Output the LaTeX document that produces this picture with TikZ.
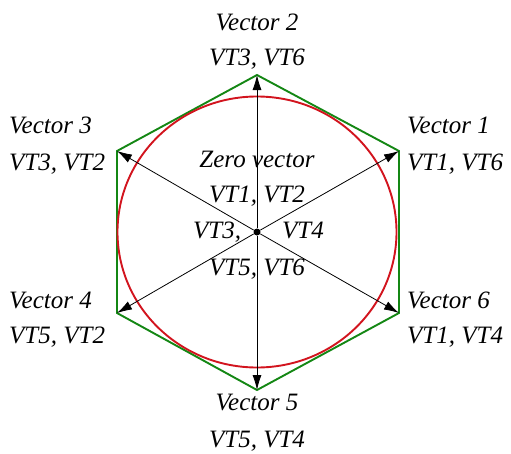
\documentclass[tikz,border=0pt]{standalone}
\usepackage{fontspec}
\setmainfont{Liberation Serif}
\usetikzlibrary{arrows.meta}

\definecolor{hexgreen}{RGB}{20,135,20}
\definecolor{circred}{RGB}{210,20,30}

\begin{document}
\begin{tikzpicture}[x=1pt, y=-1pt,
  lab/.style={font=\fontsize{25}{30}\selectfont\itshape, inner sep=0pt},
  vec/.style={-{Latex[length=15pt,width=9pt]}, line width=0.8pt},
  hex/.style={draw=hexgreen, line width=1.9pt, line join=miter},
  ring/.style={draw=circred, line width=1.9pt}]
  \useasboundingbox (0,0) rectangle (511,453);
  \coordinate (c) at (257,232);
  \coordinate (p1) at (399,151);
  \coordinate (p2) at (257,75);
  \coordinate (p3) at (117,151);
  \coordinate (p4) at (117,313);
  \coordinate (p5) at (257,390);
  \coordinate (p6) at (399,313);
  \draw[hex] (p1) -- (p2) -- (p3) -- (p4) -- (p5) -- (p6) -- cycle;
  \draw[ring] (c) ellipse [x radius=139.5, y radius=135.5];
  \node[circle, fill, inner sep=0pt, minimum size=7pt] (zero) at (c) {};
  \foreach \k in {1,...,6}
    \draw[vec] (zero) -- (p\k);
  % outer labels
  \node[lab, anchor=base] (v2a) at (257,30) {Vector 2};
  \node[lab, anchor=base] (v2b) at (257,65) {VT3, VT6};
  \node[lab, anchor=base west] (v3a) at (9,133) {Vector 3};
  \node[lab, anchor=base west] (v3b) at (9,170) {VT3, VT2};
  \node[lab, anchor=base west] (v1a) at (407,133) {Vector 1};
  \node[lab, anchor=base west] (v1b) at (407,170) {VT1, VT6};
  \node[lab, anchor=base west] (v4a) at (9,308) {Vector 4};
  \node[lab, anchor=base west] (v4b) at (9,343) {VT5, VT2};
  \node[lab, anchor=base west] (v6a) at (407,308) {Vector 6};
  \node[lab, anchor=base west] (v6b) at (407,343) {VT1, VT4};
  \node[lab, anchor=base] (v5a) at (257,410) {Vector 5};
  \node[lab, anchor=base] (v5b) at (257,447) {VT5, VT4};
  % zero vector
  \node[lab, anchor=base] (z0) at (257,167) {Zero vector};
  \node[lab, anchor=base] (z1) at (257,202) {VT1, VT2};
  \node[lab, anchor=base west] (z2) at (193,238) {VT3,};
  \node[lab, anchor=base west] (z3) at (282,238) {VT4};
  \node[lab, anchor=base] (z4) at (257,275) {VT5, VT6};
\end{tikzpicture}
\end{document}
